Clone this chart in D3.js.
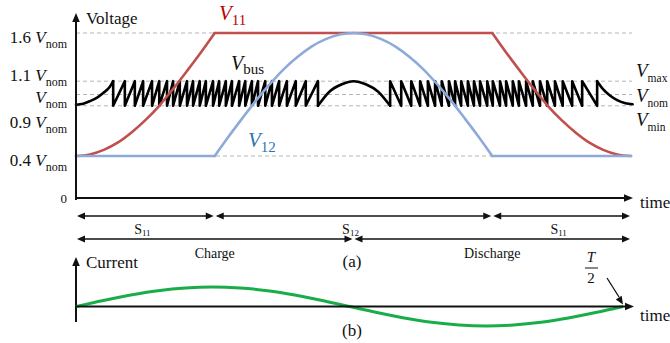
<!DOCTYPE html>
<html><head><meta charset="utf-8">
<script src="https://cdn.jsdelivr.net/npm/d3@7"></script>
<style>body{margin:0;background:#fff}svg{display:block}text{font-family:"Liberation Serif","Times New Roman",serif;fill:#111}</style>
</head><body>
<svg id="c" width="670" height="343"></svg>
<script>
// ---------- data (time in % of T/2, voltage in units of Vnom) ----------
const gridValues = [1.6, 1.13, 1.0, 0.89, 0.4];
const tickNums   = ["1.6 ", "1.1 ", "", "0.9 ", "0.4 "];
const vmax = 1.13, vmin = 0.89;

const v11RiseT = [0, 2.5, 5, 7.5, 10, 12.5, 15, 17.5, 20, 22.5, 25];
const v11RiseV = [0.40, 0.415, 0.46, 0.53, 0.63, 0.75, 0.89, 1.055, 1.23, 1.41, 1.60];
const v11FallT = [75, 77.5, 80, 82.5, 85, 87.5, 90, 92.5, 95, 97.5, 100];
const v11FallV = [1.60, 1.41, 1.23, 1.055, 0.89, 0.75, 0.63, 0.53, 0.46, 0.415, 0.40];

const v12ArchT = [25, 27.5, 30, 32.5, 35, 37.5, 40, 42.5, 45, 47.5, 50, 52.5, 55, 57.5, 60, 62.5, 65, 67.5, 70, 72.5, 75];
const v12ArchV = [0.40, 0.59, 0.77, 0.945, 1.105, 1.25, 1.37, 1.47, 1.54, 1.585, 1.60, 1.585, 1.54, 1.47, 1.37, 1.25, 1.105, 0.945, 0.77, 0.59, 0.40];

const busStartT = [0, 1.3, 2.5, 3.8, 4.9, 6.1, 6.7];
const busStartV = [0.90, 0.91, 0.935, 0.97, 1.015, 1.075, 1.13];
const chargeSwitchT = [6.7, 8.8, 10.6, 12.1, 13.7, 15.0, 16.4, 17.5, 18.7, 20.0, 21.1, 22.3, 23.4, 24.7, 25.8, 27.0, 28.1, 29.4, 30.5, 31.7, 32.8, 34.1, 35.3, 36.6, 38.0, 39.6, 41.4, 43.6];
const busArchT = [43.6, 45.7, 47.9, 50.0, 52.2, 54.4, 56.6];
const busArchV = [0.89, 1.03, 1.10, 1.13, 1.10, 1.03, 0.89];
const dischargeSwitchT = [56.6, 58.6, 60.4, 62.0, 63.4, 64.7, 65.9, 67.2, 68.3, 69.4, 70.6, 71.7, 72.8, 74.1, 75.1, 76.4, 77.5, 78.7, 79.8, 81.1, 82.3, 83.6, 84.9, 86.3, 87.7, 89.4, 91.2, 93.9];
const busEndT = [93.9, 95.0, 96.2, 97.5, 99.0, 100.3];
const busEndV = [1.13, 1.05, 0.99, 0.945, 0.915, 0.905];

const currentT = [0, 5, 10, 15, 20, 25, 30, 35, 40, 45, 50, 55, 60, 65, 70, 75, 80, 85, 90, 95, 100];
const currentI = [0, 0.31, 0.59, 0.81, 0.95, 1, 0.95, 0.81, 0.59, 0.31, 0, -0.31, -0.59, -0.81, -0.95, -1, -0.95, -0.81, -0.59, -0.31, 0];

const modeRow1 = [[0, 25, "S", "11"], [25, 75, "S", "12"], [75, 100, "S", "11"]];
const modeRow2 = [[0, 50, "Charge", 25], [50, 100, "Discharge", 75]];

// ---------- drawing ----------
const svg = d3.select("#c");
const x = d3.scaleLinear().domain([0, 100]).range([76, 631]);
const y = d3.scaleLinear().domain([0, 1.6]).range([197, 33]);
const xb = d3.scaleLinear().domain([0, 100]).range([76, 623]);
const yb = d3.scaleLinear().domain([-1, 1]).range([326, 287]);

function head(g, tx, ty, ang, L = 9, W = 3.8) {
  const c = Math.cos(ang), s = Math.sin(ang);
  const bx = tx - L * c, by = ty - L * s;
  g.append("path").attr("d", `M${tx},${ty}L${bx - W * s},${by + W * c}L${bx + W * s},${by - W * c}Z`).attr("fill", "#111");
}
function line(g, x1, y1, x2, y2, w) {
  g.append("line").attr("x1", x1).attr("y1", y1).attr("x2", x2).attr("y2", y2).attr("stroke", "#111").attr("stroke-width", w);
}

// grid lines
svg.append("g").selectAll("line").data(gridValues).join("line")
  .attr("x1", x(0)).attr("x2", 632).attr("y1", d => y(d)).attr("y2", d => y(d))
  .attr("stroke", "#b5b5b5").attr("stroke-width", 1).attr("stroke-dasharray", "4,3");

// left tick labels
const labelDy = [10, 0, 8.5, 22, 10];
gridValues.forEach((v, i) => {
  const t = svg.append("text").attr("x", 67).attr("y", y(v) + labelDy[i]).attr("text-anchor", "end").attr("font-size", 17);
  if (tickNums[i]) t.append("tspan").text(tickNums[i]);
  t.append("tspan").attr("font-style", "italic").text("V");
  t.append("tspan").attr("font-size", 12).attr("dy", 5).text("nom");
});
svg.append("text").attr("x", 67).attr("y", y(0) + 6).attr("text-anchor", "end").attr("font-size", 13).text("0");

// curves
const lg = d3.line().x(d => x(d[0])).y(d => y(d[1]));
const smooth = d3.line().x(d => x(d[0])).y(d => y(d[1])).curve(d3.curveMonotoneX);
const zip = (a, b) => a.map((t, i) => [t, b[i]]);

// Vbus
const busG = svg.append("g").attr("fill", "none").attr("stroke", "#000").attr("stroke-width", 2.6).attr("stroke-linejoin", "round").attr("stroke-linecap", "round");
busG.append("path").attr("d", smooth(zip(busStartT, busStartV)));
const chargePts = [];
chargeSwitchT.forEach(t => { chargePts.push([t, vmax]); chargePts.push([t, vmin]); });
busG.append("path").attr("d", lg(chargePts));
busG.append("path").attr("d", smooth(zip(busArchT, busArchV)));
const disPts = [];
dischargeSwitchT.forEach(t => { disPts.push([t, vmin]); disPts.push([t, vmax]); });
busG.append("path").attr("d", lg(disPts));
busG.append("path").attr("d", smooth(zip(busEndT, busEndV)));

// V11
const redG = svg.append("g").attr("fill", "none").attr("stroke", "#c0504d").attr("stroke-width", 2.6).attr("stroke-linecap", "round").attr("stroke-linejoin", "round");
redG.append("path").attr("d", smooth(zip(v11RiseT, v11RiseV)));
redG.append("path").attr("d", lg([[25, 1.6], [75, 1.6]]));
redG.append("path").attr("d", smooth(zip(v11FallT, v11FallV)));

// V12
const blueG = svg.append("g").attr("fill", "none").attr("stroke", "#8eaad9").attr("stroke-width", 2.6).attr("stroke-linecap", "round").attr("stroke-linejoin", "round");
blueG.append("path").attr("d", lg([[0, 0.4], [25, 0.4]]));
blueG.append("path").attr("d", smooth(zip(v12ArchT, v12ArchV)));
blueG.append("path").attr("d", lg([[75, 0.4], [100, 0.4]]));

// axes top
const ax = svg.append("g");
line(ax, 76, 200, 76, 20, 2);
head(ax, 76, 13, -Math.PI / 2);
line(ax, 75, y(0) + 1, 625, y(0) + 1, 2);
head(ax, 633, y(0) + 1, 0);
svg.append("text").attr("x", 86).attr("y", 24).attr("font-size", 17).text("Voltage");
svg.append("text").attr("x", 640).attr("y", 208).attr("font-size", 17).text("time");

// curve labels
function vlabel(xp, yp, sub, color, size, subSize, subDy) {
  const t = svg.append("text").attr("x", xp).attr("y", yp).attr("font-size", size);
  t.append("tspan").attr("font-style", "italic").attr("fill", color).text("V");
  t.append("tspan").attr("font-size", subSize).attr("dy", subDy).attr("fill", color).text(sub);
}
vlabel(219, 20, "11", "#c00000", 21, 15, 5);
vlabel(231, 70, "bus", "#111", 20, 15, 4);
vlabel(248, 147, "12", "#2e75b6", 21, 15, 5);
vlabel(636, 77, "max", "#111", 19, 11.5, 5);
vlabel(636, 102, "nom", "#111", 19, 11.5, 5);
vlabel(636, 126, "min", "#111", 19, 11.5, 5);

// mode arrows
const mg = svg.append("g");
function dbl(x1, x2, yy) {
  line(mg, x1 + 6, yy, x2 - 6, yy, 1.3);
  head(mg, x1 + 1, yy, Math.PI, 8, 3.5);
  head(mg, x2 - 1, yy, 0, 8, 3.5);
}
modeRow1.forEach(d => {
  dbl(x(d[0]), x(d[1]), 216);
  const t = svg.append("text").attr("x", (x(d[0]) + x(d[1])) / 2 - 3).attr("y", 234).attr("text-anchor", "middle").attr("font-size", 14);
  t.append("tspan").text(d[2]);
  t.append("tspan").attr("font-size", 9).attr("dy", 2).text(d[3]);
});
modeRow2.forEach(d => {
  dbl(x(d[0]), x(d[1]), 239);
  svg.append("text").attr("x", x(d[3])).attr("y", 258).attr("text-anchor", "middle").attr("font-size", 14).text(d[2]);
});
svg.append("text").attr("x", 352).attr("y", 267).attr("text-anchor", "middle").attr("font-size", 17).text("(a)");

// bottom panel
const bg = svg.append("g");
line(bg, 76, 322, 76, 265, 2);
head(bg, 76, 257, -Math.PI / 2);
bg.append("path").attr("d", d3.line().x(d => xb(d[0])).y(d => yb(d[1])).curve(d3.curveMonotoneX)(zip(currentT, currentI)))
  .attr("fill", "none").attr("stroke", "#19ad4a").attr("stroke-width", 3);
line(bg, 75, yb(0), 626, yb(0), 2);
head(bg, 634, yb(0), 0);
svg.append("text").attr("x", 86).attr("y", 268).attr("font-size", 17).text("Current");
svg.append("text").attr("x", 640).attr("y", 321).attr("font-size", 17).text("time");
svg.append("text").attr("x", 352).attr("y", 336).attr("text-anchor", "middle").attr("font-size", 17).text("(b)");
// T/2
svg.append("text").attr("x", 591).attr("y", 262).attr("text-anchor", "middle").attr("font-size", 15).attr("font-style", "italic").text("T");
line(svg, 585, 268, 598, 268, 1);
svg.append("text").attr("x", 591).attr("y", 283).attr("text-anchor", "middle").attr("font-size", 15).text("2");
line(svg, 607, 278, 619, 297, 1.3);
head(svg, xb(100), yb(0) - 2, Math.atan2(19, 12), 8, 3.5);
</script></body></html>
